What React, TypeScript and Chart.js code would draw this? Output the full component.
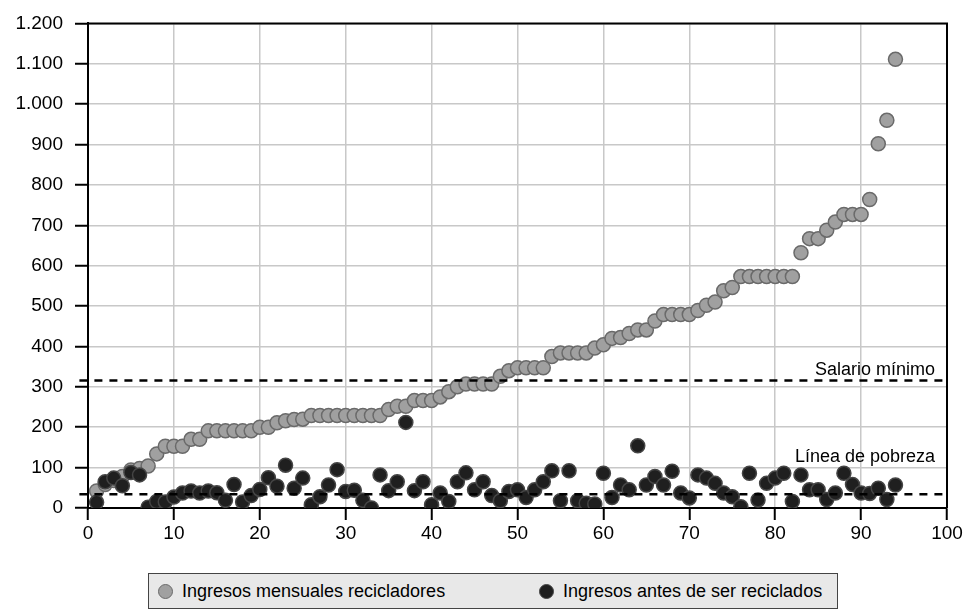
import { useEffect, useRef } from "react";
import { Chart, registerables } from "chart.js";

Chart.register(...registerables);

// numero de reciclador (orden creciente de ingreso actual)
const personas = Array.from({ length: 94 }, (_, i) => i + 1);

const ingresosMensuales = [
  42, 58, 68, 78, 94, 98, 104, 134, 153, 153,
  153, 170, 170, 191, 191, 191, 191, 191, 191, 200,
  200, 211, 216, 219, 220, 229, 229, 229, 229, 229,
  229, 229, 229, 229, 244, 252, 252, 266, 266, 266,
  275, 288, 300, 307, 307, 307, 307, 326, 340, 347,
  347, 347, 347, 375, 384, 384, 384, 384, 396, 404,
  420, 422, 432, 441, 441, 463, 479, 479, 479, 479,
  489, 502, 510, 538, 546, 573, 573, 573, 573, 573,
  573, 573, 632, 667, 667, 688, 708, 727, 727, 727,
  764, 902, 960, 1111,
];

const ingresosAntes = [
  14, 65, 74, 55, 88, 82, 2, 16, 15, 27,
  37, 42, 37, 42, 38, 19, 58, 15, 31, 46,
  75, 54, 106, 49, 74, 8, 28, 57, 95, 41,
  44, 19, 0, 82, 43, 65, 212, 43, 65, 8,
  37, 16, 65, 87, 45, 65, 31, 18, 41, 45,
  26, 45, 65, 92, 18, 92, 18, 12, 10, 86,
  26, 57, 45, 154, 57, 78, 57, 91, 37, 25,
  82, 74, 61, 37, 28, 3, 86, 20, 61, 74,
  86, 16, 82, 45, 45, 21, 37, 86, 58, 37,
  36, 49, 21, 57,
];

const salarioMinimo = 316;
const lineaPobreza = 34;
const lineaDesde = -1;
const lineaHasta = 100;

const serieNombres = ["Ingresos mensuales recicladores", "Ingresos antes de ser reciclados"];
const lineaNombres = ["Salario mínimo", "Línea de pobreza"];

const FONT = "'Liberation Sans', Arial, Helvetica, sans-serif";
const GRAY = "#a0a0a0";
const GRAY_EDGE = "#6a6a6a";
const DARK = "#1f1f1f";
const DARK_EDGE = "#454545";

const fmt = (v: number) => String(v).replace(/\B(?=(\d{3})+(?!\d))/g, ".");

const framePlugin = {
  id: "frame",
  afterDraw(chart: any) {
    const { ctx, chartArea: a, scales } = chart;
    ctx.save();
    ctx.strokeStyle = "#000";
    ctx.lineWidth = 2;
    ctx.beginPath();
    ctx.moveTo(a.left, a.top);
    ctx.lineTo(a.right, a.top);
    ctx.lineTo(a.right, a.bottom);
    ctx.stroke();

    ctx.fillStyle = "#000";
    ctx.font = `18px ${FONT}`;
    ctx.textAlign = "right";
    ctx.textBaseline = "alphabetic";
    const y = scales.y;
    ctx.fillText(lineaNombres[0], a.right - 12, y.getPixelForValue(salarioMinimo) - 5);
    ctx.fillText(lineaNombres[1], a.right - 12, y.getPixelForValue(lineaPobreza) - 32);
    ctx.restore();
  },
};

export default function App() {
  const canvasRef = useRef<HTMLCanvasElement | null>(null);

  useEffect(() => {
    const canvas = canvasRef.current;
    if (!canvas) return;

    const dashed = (v: number) => ({
      type: "line" as const,
      data: [
        { x: lineaDesde, y: v },
        { x: lineaHasta, y: v },
      ],
      borderColor: "#000",
      borderWidth: 2.5,
      borderDash: [8, 7],
      pointRadius: 0,
      fill: false,
      clip: false as any,
      order: 0,
    });

    const chart = new Chart(canvas, {
      type: "scatter",
      data: {
        datasets: [
          dashed(salarioMinimo),
          dashed(lineaPobreza),
          {
            label: serieNombres[1],
            data: personas.map((p, i) => ({ x: p, y: ingresosAntes[i] })),
            backgroundColor: DARK,
            borderColor: DARK_EDGE,
            borderWidth: 1.5,
            pointRadius: 7,
            order: 1,
          },
          {
            label: serieNombres[0],
            data: personas.map((p, i) => ({ x: p, y: ingresosMensuales[i] })),
            backgroundColor: GRAY,
            borderColor: GRAY_EDGE,
            borderWidth: 1.5,
            pointRadius: 7,
            order: 2,
          },
        ],
      },
      options: {
        animation: false,
        responsive: false,
        maintainAspectRatio: false,
        layout: { padding: { top: 20, right: 18, left: 0, bottom: 0 } },
        plugins: { legend: { display: false }, tooltip: { enabled: false } },
        scales: {
          x: {
            type: "linear",
            min: 0,
            max: 100,
            afterFit: (s: any) => {
              s.height = 52;
            },
            border: { color: "#000", width: 2 },
            grid: { color: "#c8c8c8", lineWidth: 1.5, tickColor: "#000", tickLength: 12, tickWidth: 2 },
            ticks: { stepSize: 10, color: "#000", padding: 2, font: { family: FONT, size: 19 } },
          },
          y: {
            min: 0,
            max: 1200,
            afterFit: (s: any) => {
              s.width = 88;
            },
            border: { color: "#000", width: 2 },
            grid: { color: "#c8c8c8", lineWidth: 1.5, tickColor: "#000", tickLength: 13, tickWidth: 2 },
            ticks: {
              stepSize: 100,
              color: "#000",
              padding: 12,
              font: { family: FONT, size: 19 },
              callback: (v: any) => fmt(Number(v)),
            },
          },
        },
      },
      plugins: [framePlugin],
    });

    return () => chart.destroy();
  }, []);

  const dot = (fill: string, edge: string) => ({
    display: "inline-block",
    width: 13,
    height: 13,
    borderRadius: "50%",
    background: fill,
    border: `1.5px solid ${edge}`,
    marginRight: 9,
  });

  return (
    <div style={{ position: "absolute", left: 0, top: 0, width: 965, height: 616, background: "#fff", fontFamily: FONT }}>
      <canvas ref={canvasRef} width={965} height={560} style={{ display: "block", width: 965, height: 560 }} />
      <div
        style={{
          position: "absolute",
          left: 148,
          top: 573,
          width: 688,
          height: 34,
          background: "#e8e8e8",
          border: "1px solid #444",
          display: "flex",
          alignItems: "center",
          fontSize: 18,
          color: "#000",
        }}
      >
        <span style={{ display: "flex", alignItems: "center", position: "absolute", left: 9 }}>
          <span style={dot(GRAY, GRAY_EDGE)} />
          {serieNombres[0]}
        </span>
        <span style={{ display: "flex", alignItems: "center", position: "absolute", left: 390 }}>
          <span style={dot(DARK, DARK_EDGE)} />
          {serieNombres[1]}
        </span>
      </div>
    </div>
  );
}
